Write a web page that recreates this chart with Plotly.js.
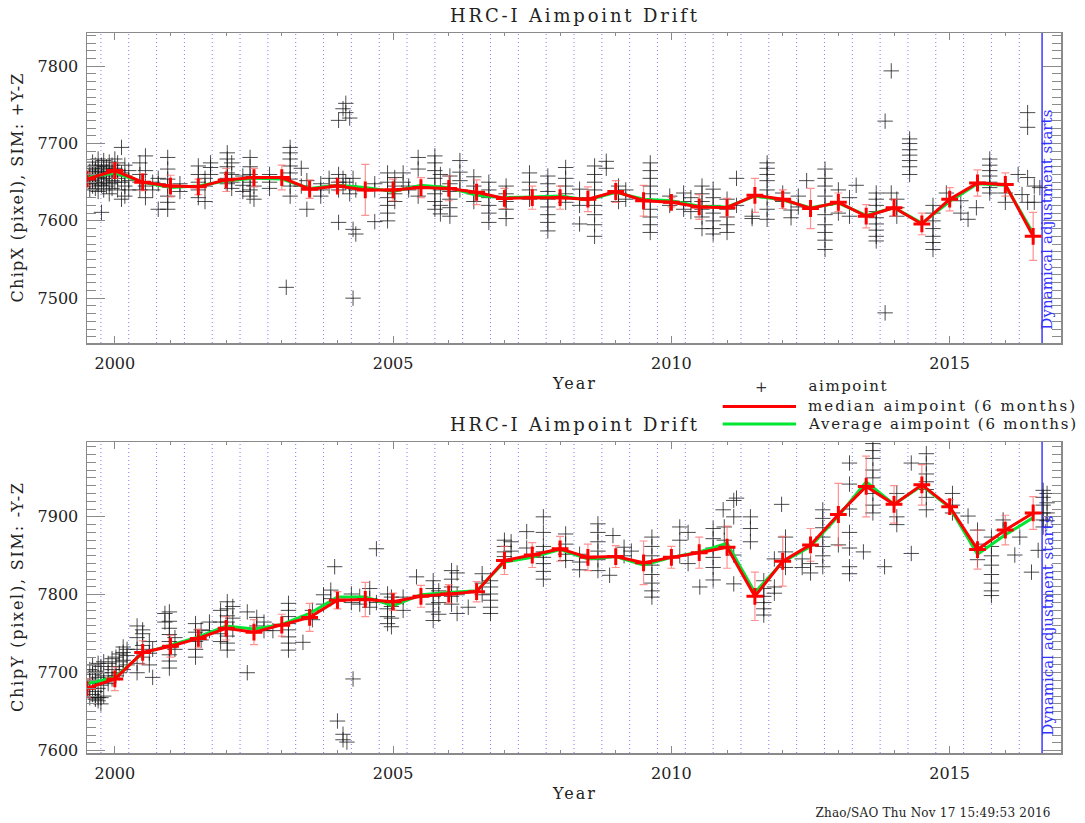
<!DOCTYPE html>
<html>
<head>
<meta charset="utf-8">
<script src="https://cdn.plot.ly/plotly-3.0.1.min.js"></script>
<style>
  html, body { margin: 0; padding: 0; background: #fff; }
  #chart { width: 1085px; height: 823px; }
</style>
</head>
<body>
<div id="chart"></div>
<script>
// ---------------- DATA ----------------
const chartTitle = "HRC-I Aimpoint Drift";
const xTitle = "Year";
const yTitleTop = "ChipX (pixel), SIM: +Y-Z";
const yTitleBottom = "ChipY (pixel), SIM: -Y-Z";
const legendLabels = ["aimpoint", "median aimpoint (6 months)", "Average aimpoint (6 months)"];
const markerNote = "Dynamical adjustment starts";
const footerText = "Zhao/SAO Thu Nov 17 15:49:53 2016";
const dynamicalStart = 2016.66;

// 6-month bins (center dates)
const medianDates = [1999.5, 2000.0, 2000.5, 2001.0, 2001.5, 2002.0, 2002.5, 2003.0, 2003.5, 2004.0,
  2004.5, 2005.0, 2005.5, 2006.0, 2006.5, 2007.0, 2007.5, 2008.0, 2008.5, 2009.0,
  2009.5, 2010.0, 2010.5, 2011.0, 2011.5, 2012.0, 2012.5, 2013.0, 2013.5, 2014.0,
  2014.5, 2015.0, 2015.5, 2016.0, 2016.5];

const chipxMedian = [7654, 7665, 7650, 7645, 7644, 7653, 7656, 7656, 7641, 7645,
  7640, 7640, 7643, 7642, 7637, 7629, 7630, 7630, 7628, 7638,
  7626, 7624, 7618, 7617, 7633, 7628, 7616, 7624, 7606, 7617,
  7596, 7628, 7649, 7647, 7580];
const chipxAverage = [7656, 7662, 7650, 7643, 7645, 7652, 7655, 7654, 7642, 7646,
  7643, 7638, 7646, 7643, 7633, 7630, 7631, 7632, 7627, 7637,
  7628, 7626, 7619, 7618, 7632, 7627, 7617, 7623, 7607, 7617,
  7597, 7625, 7648, 7646, 7584];
const chipxError = [8, 10, 11, 14, 10, 15, 12, 16, 12, 6,
  33, 14, 13, 16, 16, 13, 15, 15, 16, 14,
  20, 6, 16, 12, 22, 12, 26, 12, 15, 11,
  14, 15, 17, 15, 31];

const chipyMedian = [7680, 7692, 7726, 7734, 7744, 7757, 7752, 7761, 7771, 7793,
  7794, 7791, 7798, 7801, 7804, 7844, 7851, 7859, 7848, 7849,
  7841, 7848, 7854, 7861, 7798, 7843, 7864, 7903, 7939, 7916,
  7941, 7913, 7858, 7883, 7905];
const chipyAverage = [7686, 7694, 7725, 7736, 7746, 7760, 7756, 7762, 7776, 7797,
  7797, 7786, 7800, 7803, 7805, 7842, 7848, 7858, 7846, 7849,
  7838, 7848, 7855, 7866, 7803, 7842, 7862, 7901, 7945, 7916,
  7940, 7912, 7852, 7877, 7899];
const chipyError = [12, 15, 15, 14, 12, 15, 16, 14, 18, 11,
  22, 11, 14, 12, 13, 18, 16, 16, 17, 14,
  28, 14, 20, 27, 31, 32, 21, 40, 39, 24,
  26, 9, 25, 19, 21];

// individual observations: [date, [values observed at that date]]
const chipxObs = [
  [1999.55, [7640, 7648, 7656, 7664]], [1999.6, [7645, 7652, 7660, 7668, 7676]],
  [1999.65, [7642, 7650, 7658, 7666, 7672]], [1999.7, [7638, 7648, 7656, 7662, 7670, 7680]],
  [1999.76, [7611, 7646, 7654, 7664, 7672]], [1999.8, [7640, 7650, 7660, 7668, 7678]],
  [1999.85, [7645, 7655, 7663, 7670]], [1999.9, [7635, 7648, 7658, 7666, 7676]],
  [1999.95, [7642, 7652, 7662, 7672]], [2000.0, [7650, 7660, 7668, 7680]],
  [2000.05, [7640, 7655, 7665, 7675]], [2000.12, [7628, 7650, 7662, 7695]],
  [2000.18, [7632, 7645, 7658, 7672]], [2000.25, [7640, 7652, 7665]],
  [2000.45, [7675, 7660, 7650, 7640]], [2000.55, [7684, 7665, 7645, 7630]],
  [2000.68, [7650, 7640]], [2000.78, [7615, 7648, 7655]],
  [2000.95, [7682, 7667, 7654, 7645, 7632, 7624, 7615]], [2001.17, [7648, 7638]],
  [2001.5, [7671, 7660, 7650, 7640, 7630]], [2001.62, [7655, 7645, 7625]],
  [2001.72, [7675, 7669, 7660]],
  [2002.02, [7688, 7680, 7670, 7662, 7655, 7648]], [2002.1, [7675, 7660, 7650, 7642]],
  [2002.3, [7658, 7646, 7638]], [2002.43, [7682, 7670, 7660, 7650, 7640, 7632]],
  [2002.5, [7628, 7645]], [2002.78, [7660, 7650, 7642]],
  [2003.08, [7514]], [2003.15, [7695, 7688, 7680, 7671, 7662, 7654, 7645, 7632]],
  [2003.35, [7668, 7645]], [2003.45, [7652, 7615]],
  [2003.7, [7648, 7640, 7632]], [2003.85, [7655, 7645]],
  [2004.02, [7660, 7650, 7640, 7730, 7598]], [2004.1, [7655, 7645, 7745]],
  [2004.15, [7752, 7740, 7650]], [2004.22, [7733, 7645, 7635]],
  [2004.28, [7500, 7655, 7589]], [2004.33, [7583, 7640]],
  [2004.67, [7599, 7648, 7640]], [2004.9, [7662, 7650, 7640, 7630, 7620, 7610, 7600]],
  [2005.03, [7656, 7645, 7635, 7625]], [2005.18, [7662, 7650]], [2005.28, [7645, 7640]],
  [2005.45, [7682, 7667, 7632]],
  [2005.75, [7684, 7675, 7665, 7655, 7645, 7635, 7625, 7615]], [2005.85, [7660, 7640, 7620, 7609]],
  [2006.02, [7658, 7648, 7638, 7628, 7617, 7606]], [2006.2, [7678, 7663, 7652, 7640]],
  [2006.45, [7657, 7645, 7635, 7625]], [2006.72, [7650, 7640, 7630, 7620, 7610, 7598]],
  [2007.03, [7645, 7635, 7625, 7615, 7603]], [2007.45, [7662, 7650, 7640, 7628]],
  [2007.78, [7658, 7648, 7638, 7628, 7618, 7608, 7598, 7587]],
  [2008.1, [7669, 7655, 7645, 7635, 7624]], [2008.35, [7641, 7630, 7620, 7596]],
  [2008.62, [7671, 7660, 7650, 7640, 7630, 7620, 7608, 7595, 7580]],
  [2008.83, [7677, 7668]], [2009.05, [7645, 7635, 7625]], [2009.18, [7640, 7628]],
  [2009.62, [7675, 7665, 7655, 7645, 7635, 7625, 7615, 7605, 7595, 7585]],
  [2009.97, [7632, 7620]], [2010.22, [7636, 7625, 7615]], [2010.35, [7630, 7612]],
  [2010.75, [7641, 7630, 7620, 7610, 7600, 7590, 7583]],
  [2010.55, [7645, 7635, 7625, 7615, 7605, 7590]],
  [2011.0, [7628, 7615, 7605, 7595, 7585]], [2011.17, [7655, 7620]], [2011.45, [7606, 7603]],
  [2011.72, [7675, 7668, 7660, 7652, 7640, 7630, 7615, 7602]],
  [2012.0, [7636, 7625]], [2012.15, [7614, 7604]], [2012.28, [7632, 7618]], [2012.43, [7652]],
  [2012.76, [7667, 7655, 7645, 7632, 7620, 7608, 7595, 7585, 7575, 7563]],
  [2013.0, [7640, 7625, 7610]], [2013.2, [7630, 7606]], [2013.32, [7646]],
  [2013.68, [7636, 7628, 7620, 7612, 7604, 7596, 7588, 7580, 7574]],
  [2013.84, [7729, 7481]], [2013.95, [7794, 7636]], [2014.05, [7628, 7617, 7606]],
  [2014.28, [7706, 7700, 7692, 7685, 7678, 7670, 7660]],
  [2014.7, [7620, 7610, 7600, 7590, 7580, 7572, 7563]], [2014.94, [7636]],
  [2015.2, [7626, 7610]], [2015.33, [7602]], [2015.48, [7617]],
  [2015.72, [7680, 7672, 7665, 7658, 7650, 7643, 7636]],
  [2016.0, [7636, 7624]], [2016.23, [7660]], [2016.3, [7634]],
  [2016.4, [7740, 7721, 7656, 7624]], [2016.52, [7645, 7624]], [2016.62, [7643]]
];

const chipyObs = [
  [1999.55, [7668, 7680, 7692, 7704]], [1999.6, [7672, 7686, 7698, 7710]],
  [1999.65, [7666, 7668, 7676, 7690, 7702]], [1999.7, [7664, 7668, 7680, 7694, 7712]],
  [1999.75, [7660, 7668, 7684, 7700, 7708]], [1999.8, [7670, 7688, 7696, 7714]],
  [1999.88, [7686, 7700, 7712]], [1999.95, [7692, 7704, 7718]],
  [2000.02, [7696, 7708, 7720]], [2000.08, [7700, 7714, 7724]],
  [2000.15, [7704, 7716, 7726, 7733]], [2000.22, [7710, 7722, 7730]],
  [2000.4, [7700, 7712, 7730, 7745, 7760]], [2000.5, [7720, 7735, 7750, 7755]],
  [2000.62, [7710, 7725, 7740]], [2000.68, [7694, 7730]],
  [2000.9, [7776, 7765]], [2000.98, [7778, 7766, 7757, 7749, 7740, 7732, 7723, 7715, 7706]],
  [2001.08, [7745, 7730]], [2001.45, [7763, 7752, 7740, 7730, 7720]], [2001.55, [7755, 7742]],
  [2001.7, [7765, 7754]], [2001.9, [7780, 7765, 7750, 7740]],
  [2002.02, [7791, 7782, 7773, 7765, 7756, 7747, 7738, 7729]], [2002.12, [7785, 7770, 7755]],
  [2002.38, [7778, 7700]], [2002.55, [7771, 7760]], [2002.68, [7765, 7754]], [2002.84, [7754]],
  [2003.12, [7789, 7780, 7772, 7763, 7755, 7746, 7738, 7729]], [2003.38, [7739]],
  [2003.55, [7780, 7768]], [2003.75, [7800, 7788]], [2003.88, [7806, 7795]],
  [2003.95, [7836]], [2004.0, [7638]], [2004.1, [7621, 7614]], [2004.17, [7611]], [2004.28, [7692]],
  [2004.25, [7801, 7790]], [2004.4, [7798, 7788]], [2004.58, [7808, 7795, 7784]], [2004.7, [7859, 7790]],
  [2004.9, [7801, 7792, 7782, 7772, 7763]], [2004.97, [7797, 7785, 7770, 7759]],
  [2005.18, [7797, 7780]], [2005.42, [7823]],
  [2005.72, [7818, 7808, 7798, 7788, 7778, 7767]], [2005.82, [7805, 7790, 7775]],
  [2006.05, [7831, 7820, 7810, 7798, 7788]], [2006.15, [7828, 7800, 7776]], [2006.35, [7784]],
  [2006.6, [7827, 7815, 7800]], [2006.75, [7818, 7810, 7801, 7793, 7784, 7776]],
  [2007.0, [7870, 7862, 7855, 7849]], [2007.12, [7868, 7856]], [2007.4, [7881, 7860]],
  [2007.7, [7900, 7880, 7862, 7855, 7848, 7840, 7830, 7820]],
  [2008.1, [7878, 7865, 7852, 7844]], [2008.35, [7852, 7842, 7832]],
  [2008.68, [7891, 7880, 7868, 7856, 7845, 7831]], [2008.89, [7825]], [2008.95, [7876]],
  [2009.15, [7861, 7850]], [2009.28, [7856]],
  [2009.65, [7874, 7862, 7850, 7838, 7826, 7815, 7805, 7797]],
  [2010.15, [7887, 7870, 7850]], [2010.3, [7880, 7840]], [2010.51, [7810]],
  [2010.75, [7885, 7872, 7860, 7848, 7835, 7819]], [2010.93, [7909]],
  [2010.95, [7887, 7870]], [2011.12, [7921, 7900, 7851, 7814]], [2011.17, [7924]],
  [2011.42, [7900, 7885, 7868]], [2011.66, [7818, 7808, 7798, 7790, 7782, 7774]],
  [2011.85, [7846, 7810, 7802]], [2011.98, [7916]], [2012.05, [7874, 7855, 7835]],
  [2012.35, [7846, 7835]], [2012.5, [7840, 7828]],
  [2012.72, [7909, 7898, 7886, 7874, 7862, 7850, 7836]], [2013.0, [7864]],
  [2013.2, [7969, 7942, 7910, 7880, 7860, 7836, 7827]], [2013.45, [7855]],
  [2013.62, [7994, 7985, 7975, 7960, 7950, 7930, 7915, 7905]], [2013.83, [7836]],
  [2014.05, [7930, 7900, 7890]], [2014.31, [7969, 7853]],
  [2014.58, [7981, 7968, 7955, 7945, 7935, 7925, 7909]],
  [2015.05, [7930, 7915, 7905]], [2015.33, [7901]], [2015.5, [7883, 7865, 7845]],
  [2015.75, [7874, 7862, 7850, 7838, 7826, 7815, 7805, 7799]],
  [2015.96, [7896, 7883]], [2016.17, [7851]], [2016.26, [7874]], [2016.47, [7829]], [2016.59, [7857]],
  [2016.68, [7934, 7925, 7915, 7905, 7896, 7887]], [2016.75, [7930, 7918, 7905, 7895]]
];

// ---------------- BUILD ----------------
function flatten(stacks) {
  const xs = [], ys = [];
  stacks.forEach(function (s) { s[1].forEach(function (v) { xs.push(s[0]); ys.push(v); }); });
  return { xs: xs, ys: ys };
}
const topPts = flatten(chipxObs);
const botPts = flatten(chipyObs);

const FONT = "DejaVu Serif";
const TXT = "#222";
const AX = "#8a8a8a";

// plot-area geometry in pixels (used only for placing annotations)
const L = 87, R = 1061, T = 33, B = 753;
const px = function (x) { return (x - L) / (R - L); };
const py = function (y) { return (B - y) / (B - T); };

function panelTraces(xa, ya, pts, med, avg, err) {
  return [
    { type: "scatter", mode: "markers", x: pts.xs, y: pts.ys, xaxis: xa, yaxis: ya,
      marker: { symbol: "cross-thin-open", size: 11, color: "rgba(25,25,25,0.78)",
        line: { width: 1, color: "rgba(25,25,25,0.78)" } },
      showlegend: false, hoverinfo: "skip" },
    { type: "scatter", mode: "markers", x: medianDates, y: med, xaxis: xa, yaxis: ya,
      marker: { size: 1, color: "rgba(0,0,0,0)" },
      error_y: { type: "data", array: err, visible: true, color: "rgba(255,100,100,0.7)", thickness: 1.2, width: 4 },
      showlegend: false, hoverinfo: "skip" },
    { type: "scatter", mode: "lines", x: medianDates, y: avg, xaxis: xa, yaxis: ya,
      line: { color: "#00e632", width: 3 }, showlegend: false },
    { type: "scatter", mode: "lines+markers", x: medianDates, y: med, xaxis: xa, yaxis: ya,
      line: { color: "#ff0000", width: 3 },
      marker: { symbol: "cross-thin-open", size: 12, color: "#ff0000", line: { width: 3, color: "#ff0000" } },
      showlegend: false }
  ];
}

const traces = panelTraces("x", "y", topPts, chipxMedian, chipxAverage, chipxError)
  .concat(panelTraces("x2", "y2", botPts, chipyMedian, chipyAverage, chipyError));

function xAxis(domAnchor) {
  return {
    anchor: domAnchor, range: [1999.5, 2017.0], tick0: 2000, dtick: 5, tickformat: "d",
    ticks: "inside", ticklen: 7, tickwidth: 1, tickcolor: AX,
    minor: { dtick: 1, ticks: "inside", ticklen: 3, tickcolor: AX },
    showline: true, linecolor: AX, linewidth: 1.5, mirror: "allticks",
    showgrid: false, zeroline: false, ticklabelstandoff: 5,
    tickfont: { family: FONT, size: 16, color: TXT },
    title: { text: xTitle, font: { family: FONT, size: 16, color: TXT }, standoff: 6 }
  };
}
function yAxis(domAnchor, range, domain, title) {
  return {
    anchor: domAnchor, domain: domain, range: range, dtick: 100,
    ticks: "inside", ticklen: 18, tickwidth: 1, tickcolor: AX,
    minor: { dtick: 10, ticks: "inside", ticklen: 9, tickcolor: AX },
    showline: true, linecolor: AX, linewidth: 1.5, mirror: "allticks",
    showgrid: false, zeroline: false, ticklabelstandoff: 4,
    tickfont: { family: FONT, size: 16, color: TXT },
    title: { text: title, font: { family: FONT, size: 16, color: TXT }, standoff: 10 }
  };
}

const layout = {
  width: 1085, height: 823,
  margin: { l: L, r: 1085 - R, t: T, b: 823 - B, pad: 0 },
  paper_bgcolor: "#fff", plot_bgcolor: "#fff",
  font: { family: FONT, color: TXT },
  showlegend: false,
  title: { text: chartTitle, font: { family: FONT, size: 18, color: TXT },
    x: px(573.5), xref: "paper", xanchor: "center", y: 1 - 16 / 823, yref: "container", yanchor: "middle" },
  xaxis: Object.assign(xAxis("y"), { domain: [0, 1] }),
  yaxis: yAxis("x", [7442, 7843], [py(343), 1], yTitleTop),
  xaxis2: Object.assign(xAxis("y2"), { domain: [0, 1] }),
  yaxis2: yAxis("x2", [7597, 7996], [0, py(442)], yTitleBottom),
  shapes: [],
  annotations: []
};

// half-year boundary dotted lines
const bounds = [];
for (let d = 1999.75; d < 2016.3; d += 0.5) bounds.push(d);
[["x", "y domain"], ["x2", "y2 domain"]].forEach(function (ref) {
  bounds.forEach(function (d) {
    layout.shapes.push({ type: "line", xref: ref[0], yref: ref[1], x0: d, x1: d, y0: 0, y1: 1, layer: "below",
      line: { color: "rgba(80,80,255,0.75)", width: 1, dash: "1px,3px" } });
  });
  layout.shapes.push({ type: "line", xref: ref[0], yref: ref[1], x0: dynamicalStart, x1: dynamicalStart, y0: 0, y1: 1,
    layer: "below", line: { color: "rgb(60,60,255)", width: 1.5 } });
});

// manual legend
layout.shapes.push({ type: "line", xref: "paper", yref: "paper", x0: px(722.7), x1: px(796), y0: py(406.5), y1: py(406.5),
  line: { color: "#ff0000", width: 3 } });
layout.shapes.push({ type: "line", xref: "paper", yref: "paper", x0: px(722.7), x1: px(796), y0: py(424), y1: py(424),
  line: { color: "#00e632", width: 3 } });

function ann(text, xpix, ypix, size, extra) {
  return Object.assign({ text: text, xref: "paper", yref: "paper", x: px(xpix), y: py(ypix),
    xanchor: "center", yanchor: "middle", showarrow: false,
    font: { family: FONT, size: size, color: TXT } }, extra || {});
}
layout.annotations.push(ann(chartTitle, 573.5, 424, 18));
layout.annotations.push(ann("+", 761.7, 387, 15, { font: { family: FONT, size: 15, color: "#333" } }));
layout.annotations.push(ann(legendLabels[0], 808 + 39, 386, 15));
layout.annotations.push(ann(legendLabels[1], 808 + 133.5, 406, 15));
layout.annotations.push(ann(legendLabels[2], 808 + 133.5, 424.5, 15));
layout.annotations.push(ann(footerText, 932.5, 813, 12));
layout.annotations.push(ann(markerNote, 1047, 220, 15, { textangle: -90, font: { family: FONT, size: 15, color: "#3333ff" } }));
layout.annotations.push(ann(markerNote, 1048, 626, 15, { textangle: -90, font: { family: FONT, size: 15, color: "#3333ff" } }));

// desired rendered widths (px) of texts, to mimic the wide vector font
const textWidths = {};
textWidths[chartTitle] = 247;
textWidths[legendLabels[0]] = 78;
textWidths[legendLabels[1]] = 267;
textWidths[legendLabels[2]] = 267;
textWidths[footerText] = 235;
textWidths[markerNote] = 220;
textWidths[xTitle] = 42;
textWidths[yTitleTop] = 229;
textWidths[yTitleBottom] = 229;

Plotly.newPlot("chart", traces, layout, { staticPlot: true, displayModeBar: false }).then(function () {
  document.querySelectorAll("#chart text").forEach(function (t) {
    const w = textWidths[t.textContent];
    if (w && t.children.length === 0) {
      t.setAttribute("textLength", w);
      t.setAttribute("lengthAdjust", "spacing");
    }
  });
});
</script>
</body>
</html>
